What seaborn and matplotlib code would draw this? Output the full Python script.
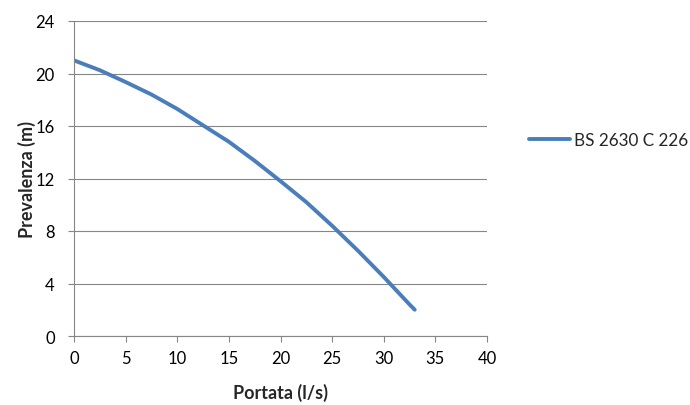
import matplotlib
matplotlib.use("Agg")
import matplotlib.pyplot as plt
import seaborn as sns
import pandas as pd

portata = [0, 2.5, 5, 7.5, 10, 12.5, 15, 17.5, 20, 22.5, 25, 27.5, 30, 32.5, 33]
prevalenza = [21.0, 20.25, 19.35, 18.4, 17.3, 16.05, 14.8, 13.35, 11.8, 10.2, 8.4, 6.5, 4.5, 2.4, 2.0]
series_name = "BS 2630 C 226"
x_ticks = [0, 5, 10, 15, 20, 25, 30, 35, 40]
y_ticks = [0, 4, 8, 12, 16, 20, 24]

sns.set_theme(style="white")
plt.rcParams['font.family'] = ['Lato', 'DejaVu Sans']

df = pd.DataFrame({"Portata": portata, "Prevalenza": prevalenza, "Serie": series_name})

W, H = 690, 406
fig = plt.figure(figsize=(6.9, 4.06), dpi=100)
ax = fig.add_axes([74/W, 1-337/H, (487-74)/W, (337-22)/H])

sns.lineplot(data=df, x="Portata", y="Prevalenza", hue="Serie", palette=["#4A7EBB"],
             linewidth=2.8, ax=ax, legend=True)
ax.lines[0].set_solid_capstyle('round')

ax.set_xlim(0, 40)
ax.set_ylim(0, 24)
ax.set_xticks(x_ticks)
ax.set_yticks(y_ticks)
ax.tick_params(axis='both', which='both', direction='out', length=4.3, width=0.8,
               color='#868686', labelsize=12, labelcolor='black',
               bottom=True, left=True)
ax.tick_params(axis='y', pad=9.5)
ax.tick_params(axis='x', pad=6)
ax.yaxis.grid(True, color='#868686', linewidth=0.8)
ax.xaxis.grid(False)
for s in ['top', 'right']:
    ax.spines[s].set_visible(False)
for s in ['left', 'bottom']:
    ax.spines[s].set_color('#868686')
    ax.spines[s].set_linewidth(0.8)
ax.set_axisbelow(True)

ax.set_xlabel("Portata (l/s)", fontsize=13, fontweight='bold')
ax.set_ylabel("Prevalenza (m)", fontsize=13, fontweight='bold')
ax.xaxis.set_label_coords(0.5, (337-393)/315)
ax.xaxis.label.set_va('center')
ax.yaxis.set_label_coords((27-74)/413, 0.5)
ax.yaxis.label.set_va('center')

leg = ax.legend(loc='center left', bbox_to_anchor=(529/W, 1-141/H),
                bbox_transform=fig.transFigure, frameon=False,
                fontsize=12.3, handlelength=2.4, handletextpad=0.25,
                borderpad=0, borderaxespad=0)
for line in leg.get_lines():
    line.set_linewidth(2.8)

fig.savefig("out.png", dpi=100)
